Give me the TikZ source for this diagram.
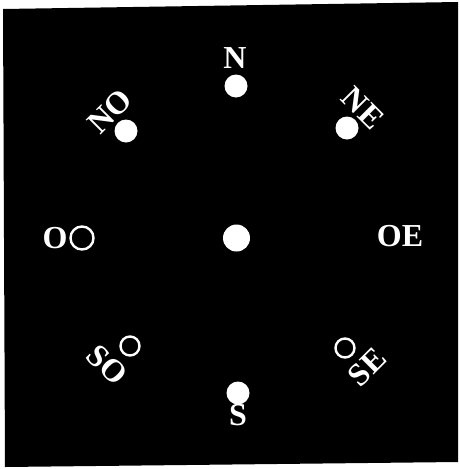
\documentclass[tikz,border=0pt]{standalone}
\usepackage{fontspec}
\setmainfont{Liberation Serif}
\begin{document}
\begin{tikzpicture}[x=1pt,y=-1pt,
  lbl/.style={text=white,font=\fontsize{32}{32}\selectfont\bfseries,inner sep=0pt},
  fdot/.style={circle,fill=white,inner sep=0pt,minimum size=23pt},
  odot/.style={circle,draw=white,line width=2.4pt,inner sep=0pt,minimum size=19pt}]
\useasboundingbox (0,0) rectangle (459,469);
\fill[white] (0,0) rectangle (459,469);
\fill[black] (3,9) -- (458,2) -- (458,462) -- (5,467) -- cycle;
% centre
\node[fdot,minimum size=27pt] (c) at (236.5,238) {};
% north
\node[fdot] (n) at (236,86) {};
\node[lbl] (nl) at (235,58) {N};
% north-west
\node[fdot] (no) at (126,131) {};
\node[lbl,rotate=45] (nol) at (110,111) {NO};
% north-east
\node[fdot] (ne) at (347,128) {};
\node[lbl,rotate=-45] (nel) at (363,108) {NE};
% west
\node[odot,minimum size=23pt] (o) at (82,238) {};
\node[lbl] (ol) at (55,238) {O};
% east
\node[lbl] (el) at (400,236) {OE};
% south-west
\node[odot] (so) at (130,346) {};
\node[lbl,rotate=-45] (sol) at (107,365) {SO};
% south-east
\node[odot] (se) at (345,348) {};
\node[lbl,rotate=45] (sel) at (367,367) {SE};
% south
\node[fdot] (s) at (238,393) {};
\node[lbl] (sl) at (238,415) {S};
\end{tikzpicture}
\end{document}
